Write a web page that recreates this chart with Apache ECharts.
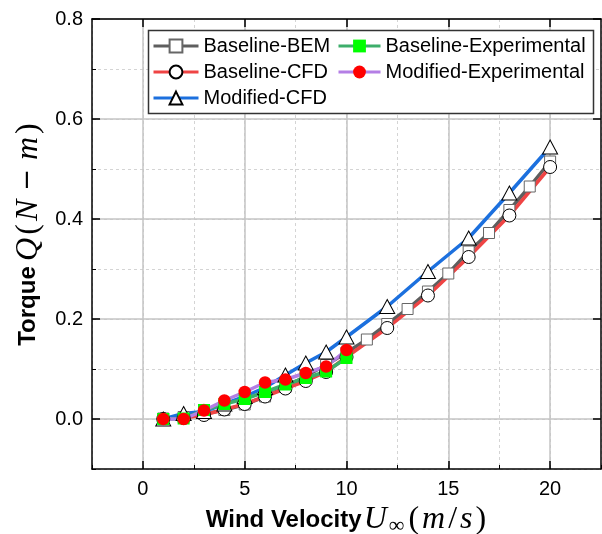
<!DOCTYPE html>
<html><head><meta charset="utf-8">
<script src="https://cdn.jsdelivr.net/npm/echarts@6/dist/echarts.min.js"></script>
<style>html,body{margin:0;padding:0;background:#fff}#c{width:602px;height:534px}</style>
</head><body><div id="c"></div>
<script>
// ---- data ----
const bemX = [1,2,3,4,5,6,7,8,9,10,11,12,13,14,15,16,17,18,19,20];
const bemQ = [0.001,0.004,0.010,0.018,0.029,0.045,0.064,0.086,0.108,0.133,0.159,0.190,0.220,0.255,0.291,0.335,0.372,0.418,0.465,0.515];
const cfdX = [1,2,3,4,5,6,7,8,9,10,12,14,16,18,20];
const cfdQ = [0.000,0.002,0.008,0.019,0.030,0.045,0.061,0.076,0.094,0.124,0.182,0.247,0.324,0.407,0.504];
const modCfdX = [1,2,3,4,5,6,7,8,9,10,12,14,16,18,20];
const modCfdQ = [0.000,0.011,0.015,0.030,0.045,0.063,0.088,0.112,0.134,0.164,0.225,0.295,0.362,0.452,0.544];
const expX = [1,2,3,4,5,6,7,8,9,10];
const baseExpQ = [0.000,0.001,0.018,0.030,0.040,0.054,0.069,0.082,0.095,0.122];
const modExpQ = [0.000,0.000,0.017,0.037,0.054,0.073,0.079,0.092,0.105,0.138];
const xTicks = [0,5,10,15,20];
const yTicks = [0,0.2,0.4,0.6,0.8];
const names = ['Baseline-BEM','Baseline-CFD','Modified-CFD','Baseline-Experimental','Modified-Experimental'];

const pairs = (xs, ys) => xs.map((x, i) => [x, ys[i]]);
const SANS = 'Liberation Sans';
const SERIF = 'Liberation Serif';

const chart = echarts.init(document.getElementById('c'), null, {renderer: 'canvas'});

const majorX = (extra) => Object.assign({
  type: 'value', min: -2.5, max: 22.5, interval: 2.5, z: 1,
  axisLine: {show: true, onZero: false, lineStyle: {color: '#000', width: 1.5}},
  axisTick: {show: true, inside: true, length: 8, customValues: xTicks, lineStyle: {color: '#000', width: 1.5}},
  axisLabel: {show: false},
  splitLine: {show: false}
}, extra);
const majorY = (extra) => Object.assign({
  type: 'value', min: -0.1, max: 0.8, interval: 0.1, z: 1,
  axisLine: {show: true, onZero: false, lineStyle: {color: '#000', width: 1.5}},
  axisTick: {show: true, inside: true, length: 8, customValues: yTicks, lineStyle: {color: '#000', width: 1.5}},
  axisLabel: {show: false},
  splitLine: {show: false}
}, extra);

const mathRich = {
  b: {fontFamily: SANS, fontWeight: 'bold', fontSize: 24, color: '#000'},
  mi: {fontFamily: SERIF, fontStyle: 'italic', fontSize: 32, color: '#000', padding: [0, 2, 0, 2]},
  mr: {fontFamily: SERIF, fontSize: 32, color: '#000', padding: [0, 1, 0, 1]},
  op: {fontFamily: 'DejaVu Sans', fontSize: 26, color: '#000', padding: [0, 7, 0, 7]},
  sub: {fontFamily: SERIF, fontSize: 22, color: '#000', padding: [12, 3, 0, 0]}
};

const option = {
  animation: false,
  backgroundColor: '#fff',
  grid: {left: 92, right: 1, top: 19, bottom: 65, containLabel: false, outerBoundsMode: 'none'},
  xAxis: [
    majorX({
      position: 'bottom',
      axisLabel: {show: true, customValues: xTicks, margin: 10, fontSize: 20, color: '#000', fontFamily: SANS},
      splitLine: {show: true, lineStyle: {color: '#c4c4c4', width: 1.5}},
      name: '{b|Wind Velocity}{mi|U}{sub|∞}{mr|(}{mi|m}{mr|/}{mi|s}{mr|)}',
      nameLocation: 'middle', nameGap: 29,
      nameTextStyle: {rich: mathRich}
    }),
    {type: 'value', position: 'bottom', min: -2.5, max: 22.5, interval: 2.5, z: 0,
     axisLine: {show: false, onZero: false},
     axisTick: {show: true, inside: true, length: 4, lineStyle: {color: '#000', width: 1}},
     axisLabel: {show: false},
     splitLine: {show: true, lineStyle: {color: '#d4d4d4', width: 1, type: [3, 3]}}},
    majorX({position: 'top'})
  ],
  yAxis: [
    majorY({
      position: 'left',
      axisLabel: {show: true, customValues: yTicks, margin: 9, fontSize: 20, color: '#000', fontFamily: SANS,
                  formatter: v => Number(v).toFixed(1)},
      splitLine: {show: true, lineStyle: {color: '#c4c4c4', width: 1.5}},
      name: '{b|Torque} {mi|Q}{mr|(}{mi|N}{op|−}{mi|m}{mr|)}',
      nameLocation: 'middle', nameGap: 36,
      nameTextStyle: {padding: [0, 0, 0, 20], rich: mathRich}
    }),
    {type: 'value', position: 'left', min: -0.1, max: 0.8, interval: 0.1, z: 0,
     axisLine: {show: false, onZero: false},
     axisTick: {show: true, inside: true, length: 4, lineStyle: {color: '#000', width: 1}},
     axisLabel: {show: false},
     splitLine: {show: true, lineStyle: {color: '#d4d4d4', width: 1, type: [3, 3]}}},
    majorY({position: 'right'})
  ],
  legend: [
    {orient: 'vertical', left: 152, top: 36, padding: 0, itemWidth: 45, itemHeight: 16, itemGap: 6,
     lineStyle: {width: 3},
     textStyle: {fontSize: 20, lineHeight: 20, color: '#000', fontFamily: SANS},
     data: [names[0], names[1], names[2]], z: 5},
    {orient: 'vertical', left: 337, top: 36, padding: 0, itemWidth: 42, itemHeight: 16, itemGap: 6,
     lineStyle: {width: 3},
     textStyle: {fontSize: 20, lineHeight: 20, color: '#000', fontFamily: SANS},
     data: [names[3], names[4]], z: 5}
  ],
  graphic: [
    {type: 'rect', z: 4, shape: {x: 148.5, y: 30.5, width: 445, height: 83},
     style: {fill: '#fff', stroke: '#333', lineWidth: 1.5}}
  ],
  series: [
    {name: names[0], type: 'line', data: pairs(bemX, bemQ), symbol: 'rect', symbolSize: 11, showAllSymbol: true,
     lineStyle: {color: '#5e5e5e', width: 3.5},
     itemStyle: {color: '#fff', borderColor: '#666', borderWidth: 1}},
    {name: names[1], type: 'line', data: pairs(cfdX, cfdQ), symbol: 'circle', symbolSize: 13, showAllSymbol: true,
     lineStyle: {color: '#ef4444', width: 3.5},
     itemStyle: {color: '#fff', borderColor: '#000', borderWidth: 1}},
    {name: names[2], type: 'line', data: pairs(modCfdX, modCfdQ), symbol: 'triangle', symbolSize: [15, 14], showAllSymbol: true,
     lineStyle: {color: '#1c70de', width: 3.5},
     itemStyle: {color: '#fff', borderColor: '#000', borderWidth: 1}},
    {name: names[3], type: 'line', data: pairs(expX, baseExpQ), symbol: 'rect', symbolSize: 12, showAllSymbol: true,
     lineStyle: {color: '#3dae6b', width: 3.5},
     itemStyle: {color: '#00ff00', borderWidth: 0}},
    {name: names[4], type: 'line', data: pairs(expX, modExpQ), symbol: 'circle', symbolSize: 12.5, showAllSymbol: true,
     lineStyle: {color: '#b47ee5', width: 3.5},
     itemStyle: {color: '#ff0000', borderWidth: 0}}
  ]
};
chart.setOption(option);
</script>
</body></html>
